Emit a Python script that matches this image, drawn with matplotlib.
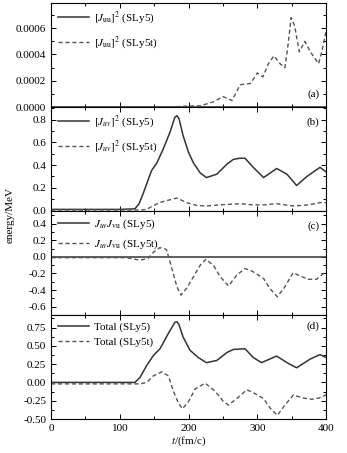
import matplotlib
matplotlib.use('Agg')
import matplotlib.pyplot as plt
from matplotlib.ticker import MultipleLocator

plt.rcParams['font.family'] = ['Liberation Serif', 'DejaVu Serif']
plt.rcParams['mathtext.fontset'] = 'stix'
plt.rcParams['font.size'] = 8

# panel (a): [J_uu]^2
t_a5 = [0, 400]
e_a5 = [0.0, 0.0]
t_a5t = [0, 100, 150, 180, 200, 217, 236, 250, 263, 275, 290, 300, 308, 316,
         324, 333, 340, 345, 349, 354, 361, 369, 377, 389, 394, 400]
e_a5t = [0, 0, 0, 0.03e-4, 0.08e-4, 0.1e-4, 0.4e-4, 0.8e-4, 0.5e-4, 1.7e-4,
         1.8e-4, 2.6e-4, 2.3e-4, 3.3e-4, 3.9e-4, 3.3e-4, 3.0e-4, 4.9e-4,
         6.8e-4, 6.2e-4, 4.2e-4, 5.0e-4, 4.2e-4, 3.3e-4, 4.3e-4, 5.8e-4]

# panel (b): [J_uv]^2
t_b5 = [0, 100, 122, 128, 134, 146, 154, 163, 173, 180, 183, 186, 192, 200,
        207, 217, 226, 241, 256, 265, 274, 282, 294, 309, 328, 343, 357, 372,
        391, 400]
e_b5 = [0.01, 0.01, 0.015, 0.06, 0.15, 0.35, 0.42, 0.54, 0.69, 0.82, 0.835,
        0.81, 0.66, 0.51, 0.42, 0.33, 0.29, 0.32, 0.41, 0.45, 0.46, 0.46,
        0.38, 0.29, 0.37, 0.32, 0.22, 0.30, 0.38, 0.34]
t_b5t = [0, 130, 139, 148, 158, 170, 183, 197, 212, 226, 246, 275, 294, 310,
         328, 352, 375, 391, 400]
e_b5t = [0.005, 0.005, 0.01, 0.04, 0.07, 0.09, 0.11, 0.07, 0.045, 0.04, 0.05,
         0.06, 0.05, 0.05, 0.06, 0.04, 0.05, 0.07, 0.07]

# panel (c): J_uv J_vu
t_c5 = [0, 400]
e_c5 = [0.0, 0.0]
t_c5t = [0, 110, 129, 141, 149, 158, 165, 168, 175, 183, 189, 197, 207, 217,
         225, 236, 246, 258, 270, 282, 292, 309, 318, 329, 340, 352, 362, 374,
         386, 396, 400]
e_c5t = [-0.01, -0.01, -0.04, -0.02, 0.056, 0.11, 0.10, 0.085, -0.12, -0.36,
         -0.46, -0.38, -0.24, -0.10, -0.03, -0.10, -0.24, -0.35, -0.22, -0.14,
         -0.17, -0.26, -0.38, -0.48, -0.36, -0.19, -0.23, -0.27, -0.27, -0.20,
         -0.19]

# panel (d): total
t_d5 = [0, 122, 129.5, 139, 149, 158.5, 170.6, 180, 183, 186, 192, 202, 214,
        226, 241, 256, 265, 282, 294, 306, 328, 343, 357, 377, 391, 400]
e_d5 = [0.0, 0.0, 0.07, 0.23, 0.37, 0.46, 0.67, 0.82, 0.83, 0.79, 0.62, 0.44,
        0.34, 0.27, 0.30, 0.41, 0.45, 0.46, 0.34, 0.27, 0.36, 0.27, 0.20,
        0.32, 0.38, 0.34]
t_d5t = [0, 130, 139, 149, 161, 170.6, 178, 185, 191, 200, 209.5, 224, 238.5,
         250.6, 258, 270, 284.6, 294, 309, 318.5, 329, 340, 352.5, 364.6, 379,
         391, 400]
e_d5t = [-0.02, -0.02, 0.0, 0.09, 0.145, 0.09, -0.12, -0.28, -0.36, -0.26,
         -0.09, -0.01, -0.12, -0.26, -0.31, -0.22, -0.10, -0.14, -0.22, -0.35,
         -0.45, -0.31, -0.17, -0.21, -0.23, -0.21, -0.17]

labels = [
    (r'$[J_{\mathrm{uu}}]^2$ (SLy5)', r'$[J_{\mathrm{uu}}]^2$ (SLy5t)'),
    (r'$[J_{uv}]^2$ (SLy5)', r'$[J_{uv}]^2$ (SLy5t)'),
    (r'$J_{uv}J_{\mathrm{vu}}$ (SLy5)', r'$J_{uv}J_{\mathrm{vu}}$ (SLy5t)'),
    ('Total (SLy5)', 'Total (SLy5t)'),
]
series = [
    (t_a5, e_a5, t_a5t, e_a5t),
    (t_b5, e_b5, t_b5t, e_b5t),
    (t_c5, e_c5, t_c5t, e_c5t),
    (t_d5, e_d5, t_d5t, e_d5t),
]
ylims = [(0.0, 0.00079), (-0.005, 0.91), (-0.70, 0.55), (-0.50, 0.92)]
majors = [0.0002, 0.2, 0.2, 0.25]
minors = [0.0001, 0.1, 0.1, 0.125]
tags = ['(a)', '(b)', '(c)', '(d)']
tag_y = [0.12, 0.855, 0.85, 0.89]
spacing = [0.7, 0.7, 0.6, 0.5]

fig, axes = plt.subplots(4, 1, sharex=True, figsize=(3.47, 4.53), dpi=100)
fig.subplots_adjust(left=0.147, right=0.94, top=0.993, bottom=0.075,
                    hspace=0)

for i, ax in enumerate(axes):
    t1, e1, t2, e2 = series[i]
    ax.plot(t1, e1, color='#333333', lw=1.1, label=labels[i][0])
    ax.plot(t2, e2, color='#555555', lw=1.0, ls=(0, (3, 2)),
            label=labels[i][1])
    ax.set_xlim(0, 400)
    ax.set_ylim(*ylims[i])
    ax.yaxis.set_major_locator(MultipleLocator(majors[i]))
    ax.yaxis.set_minor_locator(MultipleLocator(minors[i]))
    ax.xaxis.set_major_locator(MultipleLocator(100))
    ax.xaxis.set_minor_locator(MultipleLocator(50))
    ax.tick_params(which='both', direction='in', top=True, right=True,
                   width=0.7)
    ax.tick_params(which='major', length=3.5)
    ax.tick_params(which='minor', length=2)
    ax.text(0.975, tag_y[i], tags[i], transform=ax.transAxes,
            ha='right', va='center')
    ax.legend(loc='upper left', frameon=False, handlelength=2.8,
              labelspacing=spacing[i], borderaxespad=0.2, handletextpad=0.5)
    for s in ax.spines.values():
        s.set_linewidth(0.8)

axes[0].yaxis.set_major_formatter(plt.FormatStrFormatter('%.4f'))
axes[1].yaxis.set_major_formatter(plt.FormatStrFormatter('%.1f'))
axes[2].yaxis.set_major_formatter(plt.FormatStrFormatter('%.1f'))
axes[3].yaxis.set_major_formatter(plt.FormatStrFormatter('%.2f'))

axes[3].set_xlabel(r'$t$/(fm/c)', labelpad=1)
fig.text(0.028, 0.525, 'energy/MeV', rotation=90, ha='center', va='center')

fig.savefig('out.png', dpi=100)
